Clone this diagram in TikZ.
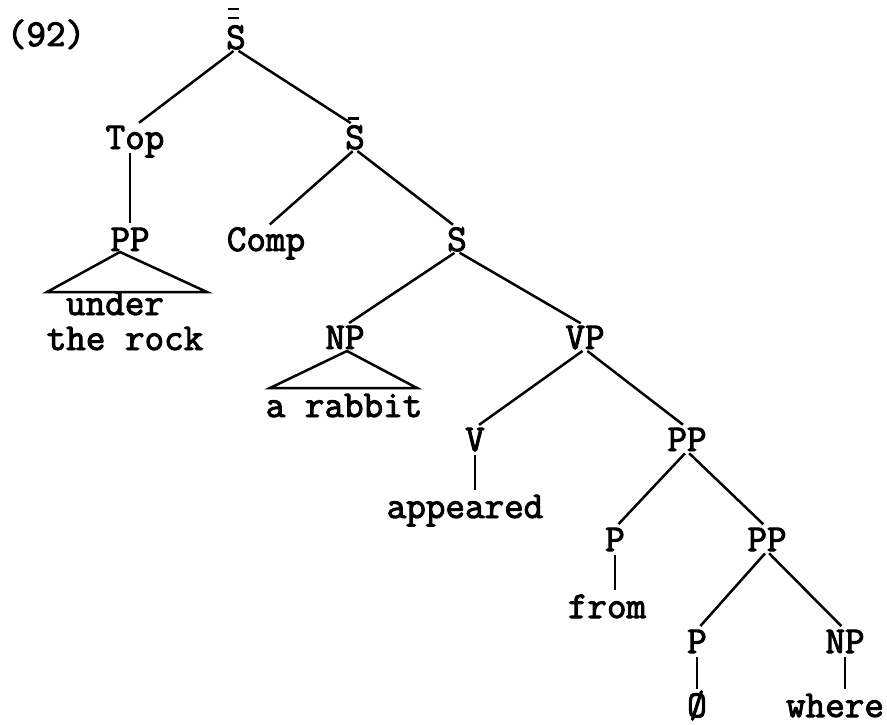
\documentclass[tikz,border=0pt]{standalone}
\usepackage{fontspec}
\newfontfamily\tw{Latin Modern Mono}[FakeBold=2.6]
\begin{document}
\begin{tikzpicture}[x=1pt,y=-1pt,
  lab/.style={font={\tw\fontsize{38}{44}\selectfont}, inner sep=0pt,
              text height=23pt, text depth=0pt, anchor=base},
  br/.style={line width=2.5pt, shorten <=3pt, shorten >=5pt},
  vert/.style={line width=2.5pt, shorten <=4pt, shorten >=5pt},
  tri/.style={line width=2.5pt, line join=miter},
  barl/.style={line width=2.4pt}]
\useasboundingbox (0,0) rectangle (887,725);

% labels
\node[lab] (ex) at (46,46) {(92)};
\node[lab] (R) at (236,49) {S};
\node[lab] (Top) at (135,149) {Top};
\node[lab] (Sb) at (355,149) {S};
\node[lab] (PPa) at (130,251) {PP};
\node[lab] (Comp) at (266,251) {Comp};
\node[lab] (S) at (457,251) {S};
\node[lab] (NPa) at (345,349) {NP};
\node[lab] (VP) at (585,349) {VP};
\node[lab] (V) at (475,451) {V};
\node[lab] (PPb) at (687,451) {PP};
\node[lab] (P1) at (615,551) {P};
\node[lab] (PPc) at (767,551) {PP};
\node[lab] (P2) at (697,653) {P};
\node[lab] (NPb) at (845,653) {NP};

\node[lab] (under) at (115,315) {under};
\node[lab] (rock) at (125,350) {the rock};
\node[lab] (rabbit) at (344,417) {a rabbit};
\node[lab] (appeared) at (465,518) {appeared};
\node[lab] (from) at (607,618) {from};
\node[lab] (zero) at (697,717) {Ø};
\node[lab] (where) at (835,717) {where};

% bars
\draw[barl] ([xshift=-8pt,yshift=17pt]R.north) -- ++(11,0);
\draw[barl] ([xshift=-8pt,yshift=8pt]R.north) -- ++(11,0);
\draw[barl] ([xshift=-7pt,yshift=7.5pt]Sb.north) -- ++(11,0);

% branches
\draw[br] (R.south) -- (Top.north);
\draw[br] (R.south) -- (Sb.north);
\draw[br] (Sb.south) -- (Comp.north);
\draw[br] (Sb.south) -- (S.north);
\draw[br] (S.south) -- (NPa.north);
\draw[br] (S.south) -- (VP.north);
\draw[br] (VP.south) -- (V.north);
\draw[br] (VP.south) -- (PPb.north);
\draw[br] (PPb.south) -- (P1.north);
\draw[br] (PPb.south) -- (PPc.north);
\draw[br] (PPc.south) -- (P2.north);
\draw[br] (PPc.south) -- (NPb.north);

% vertical branches
\draw[vert] (Top.south -| PPa.north) -- (PPa.north);
\draw[vert] (V.south) -- (V.south |- appeared.north);
\draw[vert] (P1.south) -- (P1.south |- from.north);
\draw[vert] (P2.south) -- (P2.south |- zero.north);
\draw[vert] (NPb.south) -- (NPb.south |- where.north);

% triangles
\coordinate (ta) at (120,252);
\coordinate (tl) at (47,292);
\coordinate (tr) at (207,292);
\draw[tri] (ta) -- (tl) -- (tr) -- cycle;
\coordinate (na) at (347,351);
\coordinate (nl) at (270,388);
\coordinate (nr) at (417,388);
\draw[tri] (na) -- (nl) -- (nr) -- cycle;
\end{tikzpicture}
\end{document}
